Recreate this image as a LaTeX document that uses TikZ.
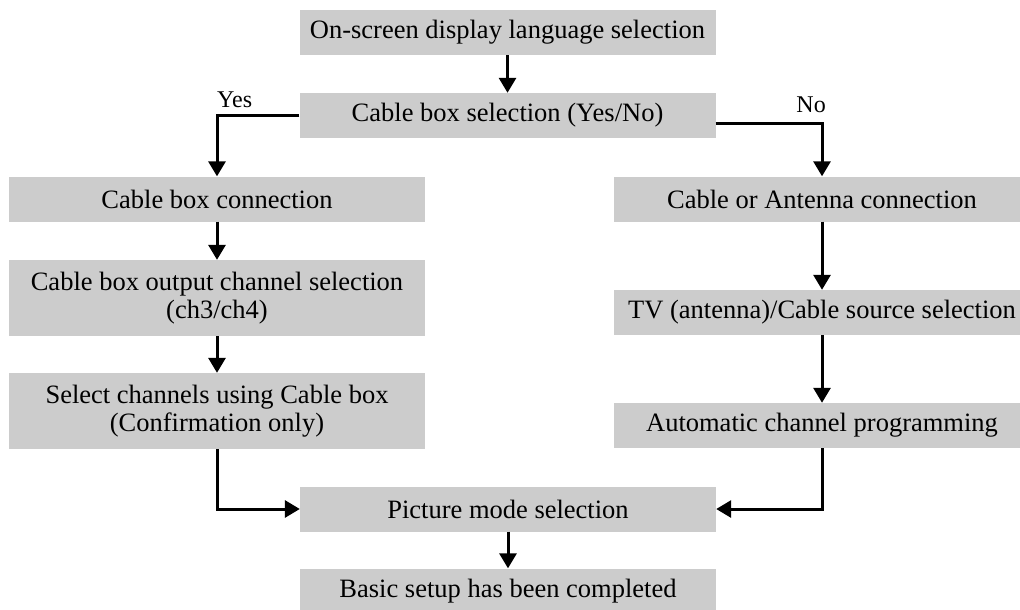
\documentclass[tikz,border=0pt]{standalone}
\usepackage{fontspec}
\setmainfont{Liberation Serif}
\usetikzlibrary{arrows.meta}

\begin{document}
\begin{tikzpicture}[x=1pt, y=-1pt,
    stepbox/.style={fill=black!20, minimum width=416pt, minimum height=45pt,
      inner sep=0pt, align=center, font=\fontsize{26.5}{28}\selectfont},
    tallbox/.style={stepbox, minimum height=76pt},
    flow/.style={line width=3pt, -{Triangle[length=15pt, width=17pt]}},
    answer/.style={inner sep=0pt, font=\fontsize{24}{26}\selectfont}]
  \useasboundingbox (0, 0) rectangle (1020, 610);
  \node[stepbox] (lang) at (507.5, 32.5) {On-screen display language selection};
  \node[stepbox] (cbsel) at (507.5, 115.5) {Cable box selection (Yes/No)};
  \node[stepbox] (cbconn) at (217, 199) {Cable box connection};
  \node[tallbox] (outch) at (217, 298) {Cable box output channel selection\\(ch3/ch4)};
  \node[tallbox] (selch) at (217, 411) {Select channels using Cable box\\(Confirmation only)};
  \node[stepbox] (antconn) at (822, 199) {Cable or Antenna connection};
  \node[stepbox] (srcsel) at (822, 312.5) {TV (antenna)/Cable source selection};
  \node[stepbox] (autoprog) at (822, 425.5) {Automatic channel programming};
  \node[stepbox] (picmode) at (508, 509) {Picture mode selection};
  \node[stepbox] (done) at (508, 591) {Basic setup has been completed};
  \node[answer, anchor=base west] (yes) at (217, 107) {Yes};
  \node[answer, anchor=base east] (no) at (826, 112) {No};
  \draw[flow] (lang) -- (cbsel);
  \draw[flow] (cbsel.west) -| (cbconn.north);
  \draw[flow] ([yshift=-8pt]cbsel.east) -| (antconn.north);
  \draw[flow] (cbconn) -- (outch);
  \draw[flow] (outch) -- (selch);
  \draw[flow] (antconn) -- (srcsel);
  \draw[flow] (srcsel) -- (autoprog);
  \draw[flow] (selch.south) |- (picmode.west);
  \draw[flow] (autoprog.south) |- (picmode.east);
  \draw[flow] (picmode) -- (done);
\end{tikzpicture}
\end{document}
